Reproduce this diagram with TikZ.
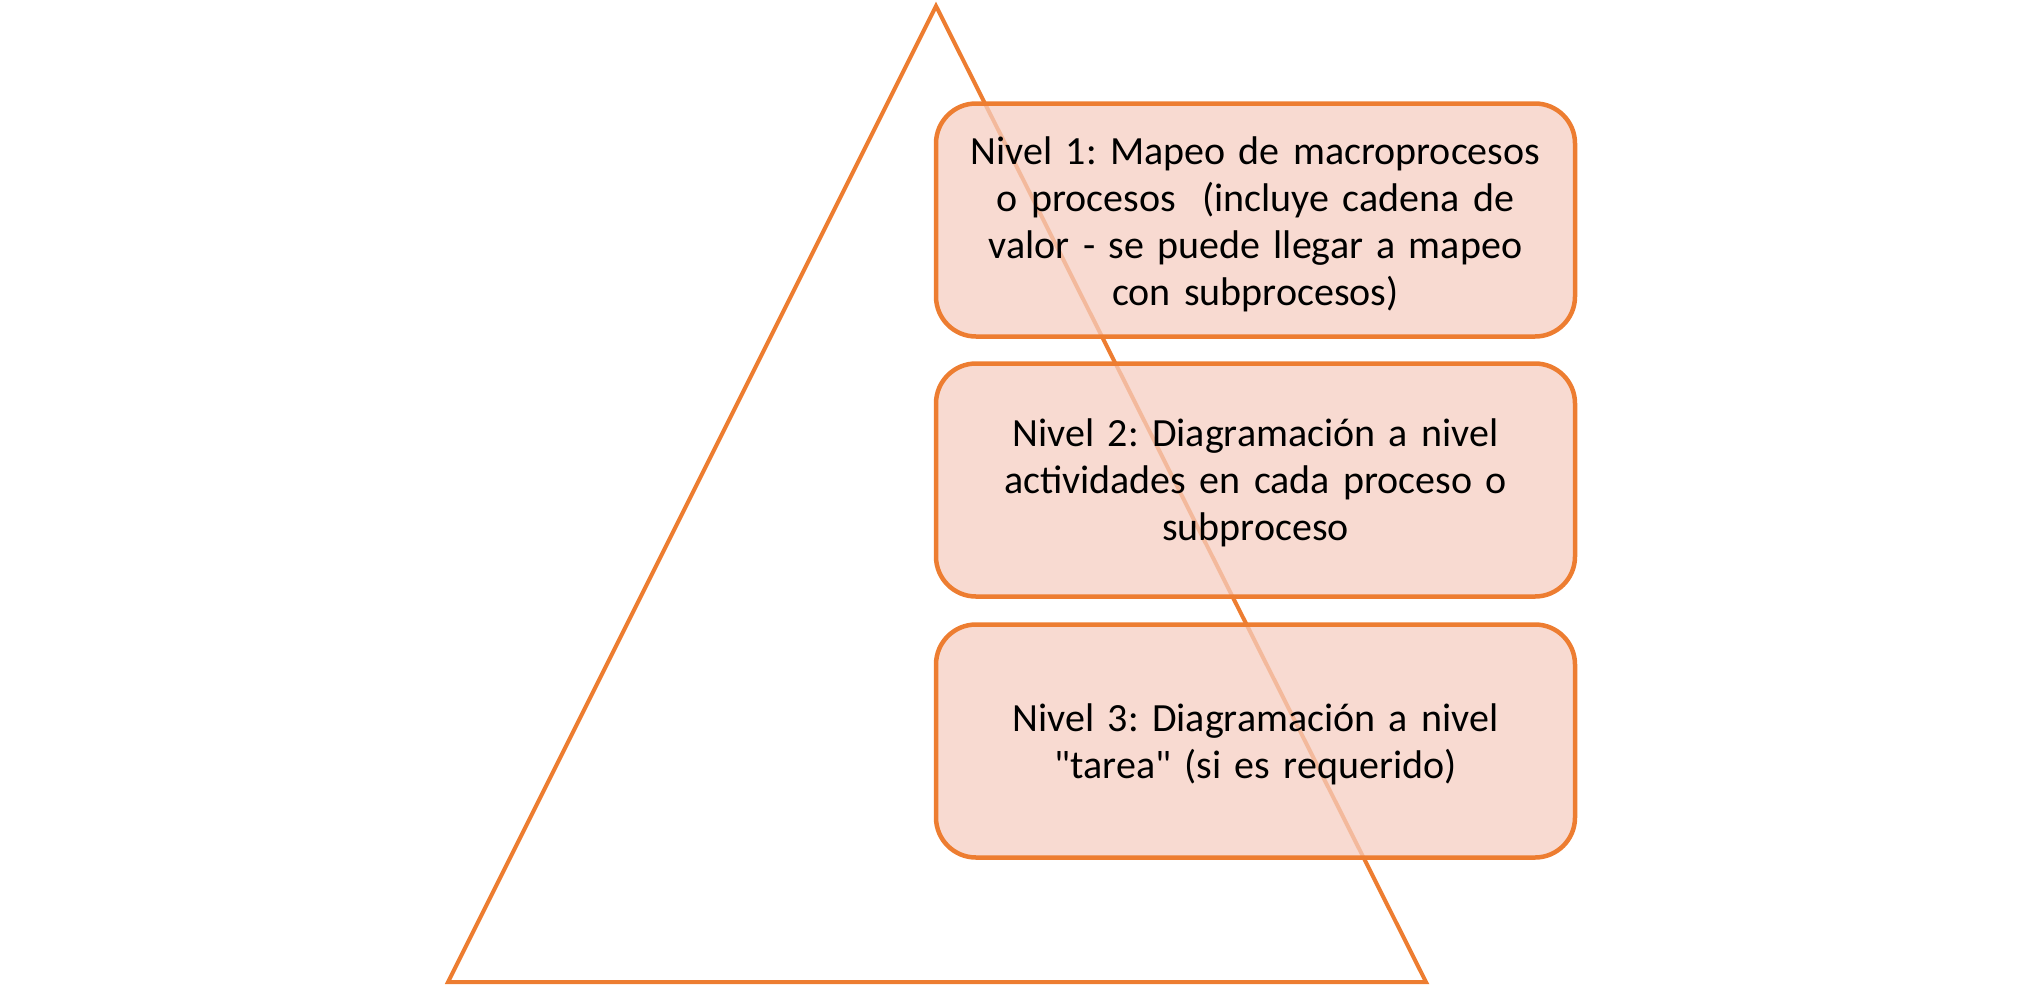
\documentclass[tikz,border=0pt]{standalone}
\usepackage{fontspec}
\setmainfont{Carlito}[Ligatures=TeXOff, WordSpace=0.8]
\frenchspacing
\definecolor{orangeline}{HTML}{ED7D31}
\definecolor{boxfill}{HTML}{F6CEC1}
\tikzset{
  levelbox/.style={draw=orangeline, line width=4.5pt, rounded corners=40pt,
    fill=boxfill, fill opacity=0.75, text opacity=1,
    minimum width=639pt, minimum height=233pt, text width=625pt, align=center,
    inner sep=3pt, font=\fontsize{40pt}{47pt}\selectfont},
  pyr/.style={draw=orangeline, line width=4pt, line join=miter},
  tlabel/.style={text width=625pt, align=center, font=\fontsize{40pt}{47pt}\selectfont}
}
\begin{document}
\begin{tikzpicture}[x=1pt,y=-1pt]
\useasboundingbox (0,0) rectangle (2018,986);
\coordinate (apex) at (936,6);
\coordinate (bl) at (448,982);
\coordinate (br) at (1426,982);
\draw[pyr] (apex) -- (bl) -- (br) -- cycle;
\node[levelbox] (n1) at (1255.5,220) {};
\node[levelbox] (n2) at (1255.5,480) {};
\node[levelbox] (n3) at (1255.5,741) {};
\node[tlabel] (t1) at (1255.5,224) {Nivel 1: Mapeo de macroprocesos\\ o procesos\ \ (incluye cadena de\\ valor - se puede llegar a mapeo\\ con subprocesos)};
\node[tlabel] (t2) at (1255.5,483) {Nivel 2: Diagramación a nivel\\ actividades en cada proceso o\\ subproceso};
\node[tlabel] (t3) at (1255.5,744) {Nivel 3: Diagramación a nivel\\ "tarea" (si es requerido)};
\end{tikzpicture}
\end{document}
